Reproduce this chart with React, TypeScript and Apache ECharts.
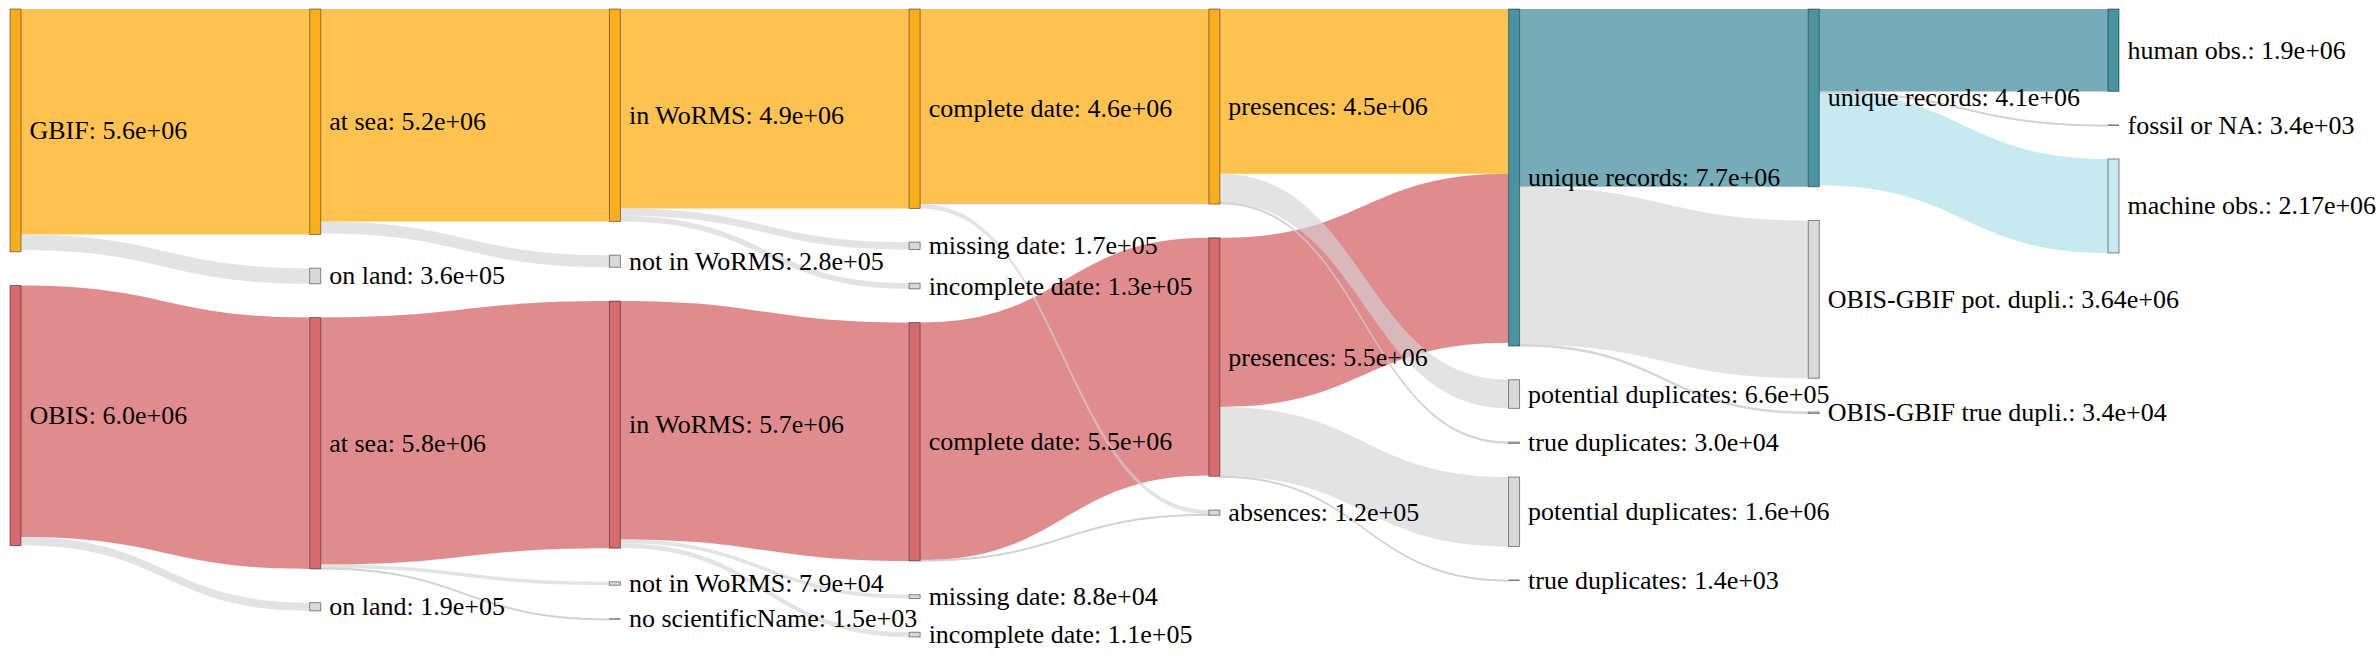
import React, { useEffect, useRef } from "react";
import * as echarts from "echarts";

// ---- nodes (top-to-bottom order within each column) ----
const nodeIds = [
  "GBIF", "OBIS",
  "GBIF at sea", "GBIF on land", "OBIS at sea", "OBIS on land",
  "GBIF in WoRMS", "GBIF not in WoRMS", "OBIS in WoRMS", "OBIS not in WoRMS", "OBIS no scientificName",
  "GBIF complete date", "GBIF missing date", "GBIF incomplete date",
  "OBIS complete date", "OBIS missing date", "OBIS incomplete date",
  "GBIF presences", "OBIS presences", "absences",
  "unique records", "GBIF potential duplicates", "GBIF true duplicates",
  "OBIS potential duplicates", "OBIS true duplicates",
  "unique records 2", "OBIS-GBIF pot. dupli.", "OBIS-GBIF true dupli.",
  "human obs.", "fossil or NA", "machine obs.",
];
const nodeLabels = [
  "GBIF", "OBIS",
  "at sea", "on land", "at sea", "on land",
  "in WoRMS", "not in WoRMS", "in WoRMS", "not in WoRMS", "no scientificName",
  "complete date", "missing date", "incomplete date",
  "complete date", "missing date", "incomplete date",
  "presences", "presences", "absences",
  "unique records", "potential duplicates", "true duplicates",
  "potential duplicates", "true duplicates",
  "unique records", "OBIS-GBIF pot. dupli.", "OBIS-GBIF true dupli.",
  "human obs.", "fossil or NA", "machine obs.",
];
const nodeValues = [
  5.6e6, 6.0e6,
  5.2e6, 3.6e5, 5.8e6, 1.9e5,
  4.9e6, 2.8e5, 5.7e6, 7.9e4, 1.5e3,
  4.6e6, 1.7e5, 1.3e5,
  5.5e6, 8.8e4, 1.1e5,
  4.5e6, 5.5e6, 1.2e5,
  7.7e6, 6.6e5, 3.0e4,
  1.6e6, 1.4e3,
  4.1e6, 3.64e6, 3.4e4,
  1.9e6, 3.4e3, 2.17e6,
];
const nodeKinds = [
  "gbif", "obis",
  "gbif", "grey", "obis", "grey",
  "gbif", "grey", "obis", "grey", "grey",
  "gbif", "grey", "grey",
  "obis", "grey", "grey",
  "gbif", "obis", "grey",
  "unique", "grey", "grey",
  "grey", "grey",
  "unique", "grey", "grey",
  "unique", "grey", "machine",
];

// ---- links (coloured first, grey drawn on top) ----
const linkSources = [
  "GBIF", "OBIS",
  "GBIF at sea", "OBIS at sea",
  "GBIF in WoRMS", "OBIS in WoRMS",
  "GBIF complete date", "OBIS complete date",
  "GBIF presences", "OBIS presences",
  "unique records",
  "unique records 2", "unique records 2",
  "GBIF", "OBIS",
  "GBIF at sea", "OBIS at sea", "OBIS at sea",
  "GBIF in WoRMS", "GBIF in WoRMS", "OBIS in WoRMS", "OBIS in WoRMS",
  "GBIF complete date", "OBIS complete date",
  "GBIF presences", "GBIF presences", "OBIS presences", "OBIS presences",
  "unique records", "unique records",
  "unique records 2",
];
const linkTargets = [
  "GBIF at sea", "OBIS at sea",
  "GBIF in WoRMS", "OBIS in WoRMS",
  "GBIF complete date", "OBIS complete date",
  "GBIF presences", "OBIS presences",
  "unique records", "unique records",
  "unique records 2",
  "human obs.", "machine obs.",
  "GBIF on land", "OBIS on land",
  "GBIF not in WoRMS", "OBIS not in WoRMS", "OBIS no scientificName",
  "GBIF missing date", "GBIF incomplete date", "OBIS missing date", "OBIS incomplete date",
  "absences", "absences",
  "GBIF potential duplicates", "GBIF true duplicates", "OBIS potential duplicates", "OBIS true duplicates",
  "OBIS-GBIF pot. dupli.", "OBIS-GBIF true dupli.",
  "fossil or NA",
];
const linkValues = [
  5.2e6, 5.8e6,
  4.9e6, 5.7e6,
  4.6e6, 5.5e6,
  4.5e6, 5.48e6,
  3.8e6, 3.9e6,
  4.1e6,
  1.9e6, 2.17e6,
  3.6e5, 1.9e5,
  2.8e5, 7.9e4, 1.5e3,
  1.7e5, 1.3e5, 8.8e4, 1.1e5,
  1.0e5, 2.0e4,
  6.6e5, 3.0e4, 1.6e6, 1.4e3,
  3.64e6, 3.4e4,
  3.4e3,
];
const linkKinds = [
  "gbif", "obis",
  "gbif", "obis",
  "gbif", "obis",
  "gbif", "obis",
  "gbif", "obis",
  "unique",
  "unique", "machine",
  "grey", "grey",
  "grey", "grey", "grey",
  "grey", "grey", "grey", "grey",
  "grey", "grey",
  "grey", "grey", "grey", "grey",
  "grey", "grey",
  "grey",
];

const NODE_COLORS: Record<string, string> = {
  gbif: "#FAAE1D",
  obis: "#D66A6E",
  unique: "#4A93A1",
  machine: "#C6E8EE",
  grey: "#D9D9D9",
};
const LINK_COLORS: Record<string, string> = {
  gbif: "rgba(254,174,22,0.75)",
  obis: "rgba(214,102,106,0.75)",
  unique: "rgba(64,140,155,0.72)",
  machine: "rgba(178,226,234,0.72)",
  grey: "rgba(211,211,211,0.63)",
};

const FONT = "Liberation Serif";

function fmt(v: number): string {
  let d = 1;
  for (; d < 4; d++) {
    if (parseFloat(v.toExponential(d)) === v) break;
  }
  const s = v.toExponential(d);
  return s.replace(/e([+-])(\d)$/, "e$10$2");
}

export default function App() {
  const ref = useRef<HTMLDivElement>(null);
  useEffect(() => {
    if (!ref.current) return;
    const chart = echarts.init(ref.current, undefined, { renderer: "svg" });
    const data = nodeIds.map((id, i) => ({
      name: id,
      value: nodeValues[i],
      itemStyle: { color: NODE_COLORS[nodeKinds[i]] },
    }));
    const links = linkSources.map((s, i) => {
      const c = LINK_COLORS[linkKinds[i]];
      const tiny = linkValues[i] < 5e4;
      return {
        source: s,
        target: linkTargets[i],
        value: linkValues[i],
        lineStyle: tiny
          ? { color: c, opacity: 1, borderColor: "rgba(200,200,200,0.8)", borderWidth: 1 }
          : { color: c, opacity: 1 },
      };
    });
    chart.setOption({
      animation: false,
      textStyle: { fontFamily: FONT },
      series: [
        {
          type: "sankey",
          left: 10,
          right: 257,
          top: 9,
          bottom: 19,
          nodeWidth: 11,
          nodeGap: 33.7,
          nodeAlign: "left",
          layoutIterations: 0,
          draggable: false,
          emphasis: { disabled: true },
          label: {
            show: true,
            position: "right",
            distance: 8,
            color: "#000",
            fontFamily: FONT,
            fontSize: 26,
            formatter: (p: any) => `${nodeLabels[p.dataIndex]}: ${fmt(p.value)}`,
          },
          itemStyle: { borderColor: "rgba(0,0,0,0.45)", borderWidth: 1 },
          lineStyle: { curveness: 0.5 },
          data,
          links,
        },
      ],
    });
    return () => chart.dispose();
  }, []);
  return (
    <div
      ref={ref}
      style={{ position: "fixed", left: 0, top: 0, width: 2376, height: 656, background: "#fff" }}
    />
  );
}
